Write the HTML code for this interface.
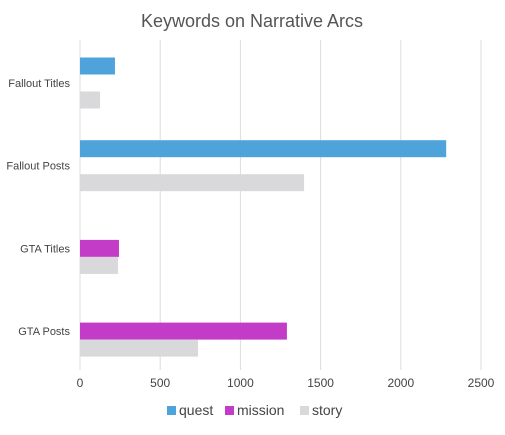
<!DOCTYPE html>
<html><head><meta charset="utf-8"><style>
body{margin:0;background:#fff;font-family:"Liberation Sans",sans-serif;}
</style></head><body>
<svg id="chart" width="505" height="430" xmlns="http://www.w3.org/2000/svg">
<text x="252" y="27" text-anchor="middle" font-size="18" fill="#555">Keywords on Narrative Arcs</text>
<g id="grid"></g><g id="bars"></g><g id="labels"></g>
<g id="legend"></g>
</svg>
<script>
const categories=["Fallout Titles","Fallout Posts","GTA Titles","GTA Posts"];
const seriesNames=["quest","mission","story"];
const questValues=[218,2283,null,null];
const missionValues=[null,null,243,1290];
const storyValues=[125,1397,237,736];
const xTicks=[0,500,1000,1500,2000,2500];
const colors=["#4FA3DB","#C23CC8","#D9D9DC"];
const svg=document.getElementById('chart');
const NS="http://www.w3.org/2000/svg";
const x0=80,x1=481,yTop=40,yBot=370;
const xs=v=>x0+v/2500*(x1-x0);
const bandCenter=i=>83+i*82.7;
function mk(t,a,p){const e=document.createElementNS(NS,t);for(const k in a)e.setAttribute(k,a[k]);p.appendChild(e);return e;}
xTicks.forEach(t=>{
  const l=mk('line',{x1:xs(t),x2:xs(t),y1:yTop,y2:yBot,stroke:'#ddd','stroke-width':1},document.getElementById('grid'));
  
  
  const tx=mk('text',{x:xs(t),y:387,'text-anchor':'middle','font-size':12,fill:'#444'},document.getElementById('labels'));
  tx.textContent=t;
  
  
});
const all=[questValues,missionValues,storyValues];
categories.forEach((c,i)=>{
  const cy=bandCenter(i);
  const tx=mk('text',{x:70,y:cy+4,'text-anchor':'end','font-size':11,fill:'#444'},document.getElementById('labels'));
  tx.textContent=c;
  
  
  all.forEach((s,j)=>{
    if(s[i]==null)return;
    const y=cy-25.5+j*17;
    const r=mk('rect',{x:x0,y:y,width:xs(s[i])-x0,height:17,fill:colors[j]},document.getElementById('bars'));
    
    
  });
});
const lg=document.getElementById('legend');
const lx=[167,225,300];
seriesNames.forEach((n,j)=>{
  const r=mk('rect',{x:lx[j],y:406,width:9,height:9,fill:colors[j]},lg);
  
  
  const t=mk('text',{x:lx[j]+12,y:415,'font-size':14,fill:'#444'},lg);
  t.textContent=n;
  
  
});
</script>
</body></html>
